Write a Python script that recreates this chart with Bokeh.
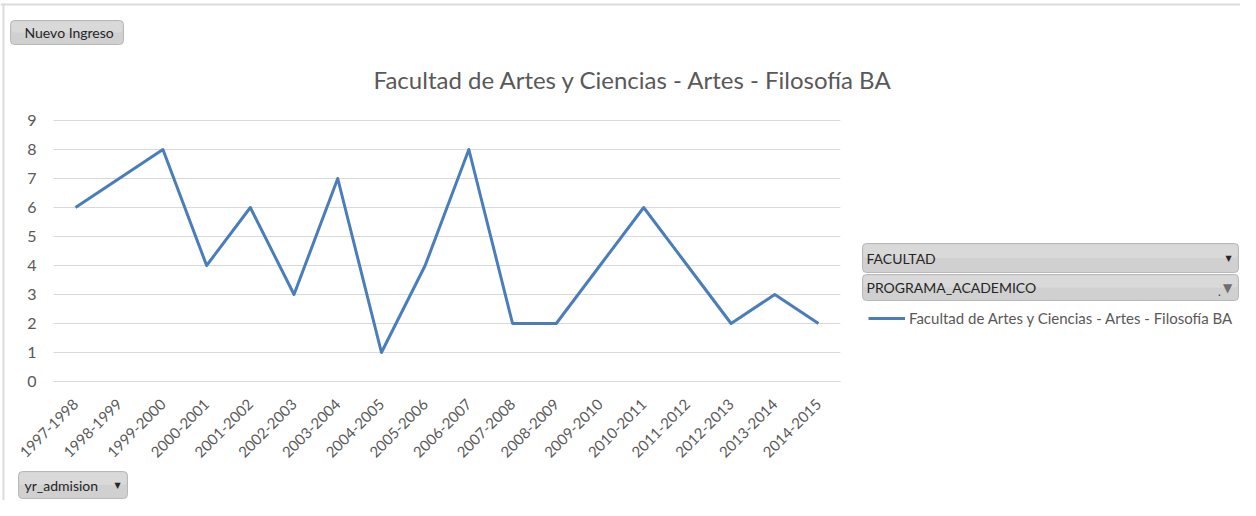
import math
from bokeh.plotting import figure
from bokeh.models import (Range1d, Label, BoxAnnotation, Legend, LegendItem, FixedTicker)
from bokeh.embed import file_html
from bokeh.resources import INLINE

years = ["1997-1998", "1998-1999", "1999-2000", "2000-2001", "2001-2002", "2002-2003",
         "2003-2004", "2004-2005", "2005-2006", "2006-2007", "2007-2008", "2008-2009",
         "2009-2010", "2010-2011", "2011-2012", "2012-2013", "2013-2014", "2014-2015"]
values = [6, 7, 8, 4, 6, 3, 7, 1, 4, 8, 2, 2, 4, 6, 4, 2, 3, 2]
y_ticks = [0, 1, 2, 3, 4, 5, 6, 7, 8, 9]
series_name = "Facultad de Artes y Ciencias - Artes - Filosofía BA"
title_text = "Facultad de Artes y Ciencias - Artes - Filosofía BA"

FONT = "Lato"
TXT = "#595959"
W, H = 1240, 500

# category index positions
xs = list(range(len(years)))

# pixel layout of the plotting band (category band edges -0.5 .. n-0.5, values 0..9)
PX_FIRST, PX_LAST = 75, 818       # pixel x of first / last category
PY_ZERO, PY_NINE = 381, 120        # pixel y of 0 / 9
kx = (PX_LAST - PX_FIRST) / (len(years) - 1)
ky = (PY_ZERO - PY_NINE) / 9.0
x_range = Range1d(-PX_FIRST / kx, (W - PX_FIRST) / kx)
y_range = Range1d((PY_ZERO - H) / ky, PY_ZERO / ky)

p = figure(width=W, height=H, x_range=x_range, y_range=y_range,
           output_backend="svg", toolbar_location=None, min_border=0,
           x_axis_location="below", y_axis_location="left")
p.outline_line_color = None
p.background_fill_color = "white"
p.border_fill_color = "white"
p.xgrid.visible = False
p.ygrid.visible = False

band_lo, band_hi = -0.5, len(years) - 0.5

# horizontal gridlines at the value ticks across the category band
p.segment(x0=[band_lo] * len(y_ticks), x1=[band_hi] * len(y_ticks), y0=y_ticks, y1=y_ticks,
          line_color="#d9d9d9", line_width=1)

r = p.line(x=xs, y=values, line_color="#4a7ebb", line_width=3, line_join="round")

# y axis (fixed at the band's left edge)
ya = p.yaxis[0]
ya.fixed_location = band_lo
ya.ticker = FixedTicker(ticks=y_ticks)
ya.bounds = (0, 9)
ya.axis_line_color = None
ya.major_tick_line_color = None
ya.minor_tick_line_color = None
ya.major_label_text_font = FONT
ya.major_label_text_font_size = "16px"
ya.major_label_text_color = TXT
ya.major_label_standoff = 11

# x axis (fixed at value 0)
xa = p.xaxis[0]
xa.fixed_location = 0
xa.ticker = FixedTicker(ticks=xs)
xa.bounds = (band_lo, band_hi)
xa.major_label_overrides = {i: y for i, y in zip(xs, years)}
xa.axis_line_color = "#d9d9d9"
xa.major_tick_line_color = None
xa.minor_tick_line_color = None
xa.major_label_orientation = math.pi / 4
xa.major_label_text_font = FONT
xa.major_label_text_font_size = "15px"
xa.major_label_text_color = TXT
xa.major_label_standoff = 14

# helpers: pixel coords (from top-left) -> frame screen units (frame == canvas)
def sx(x):
    return x
def sy(y):
    return H - y

def box(x0, y0, x1, y1, fill, line=None, radius=0):
    p.add_layout(BoxAnnotation(left=sx(x0), right=sx(x1), top=sy(y0), bottom=sy(y1),
                               left_units="screen", right_units="screen",
                               top_units="screen", bottom_units="screen",
                               fill_color=fill, fill_alpha=1.0, line_color=line,
                               line_alpha=1.0 if line else 0.0,
                               line_width=1, border_radius=radius, level="overlay"))

def button(x0, y0, x1, y1):
    box(x0, y0, x1, y1, "#d0d0d0", "#b8b8b8", 4)
    box(x0 + 1, y0 + 1, x1 - 1, (y0 + y1) / 2, "#d9d9d9", None, 3)

def label(x, y, text, size="14px", align="left", color="#262626", font=FONT):
    p.add_layout(Label(x=sx(x), y=sy(y), x_units="screen", y_units="screen", text=text,
                       text_font=font, text_font_size=size, text_color=color,
                       text_align=align, text_baseline="middle", level="overlay"))

# outer frame lines (top and left)
box(0, 3, W, 5, "#dcdcdc")
box(2, 3, 4, H, "#dcdcdc")

# title
label(633, 79, title_text, size="24px", align="center", color=TXT)

# buttons / slicers
button(10, 20, 123, 44)
label(24, 32, "Nuevo Ingreso", size="14px")

button(18, 471, 127, 498)
label(24, 485, "yr_admision", size="14px")
label(117, 485, "▼", size="8px", align="center", font="DejaVu Sans")

button(862, 243, 1238, 272)
label(866, 258, "FACULTAD", size="14px")
label(1228, 258, "▼", size="8px", align="center", font="DejaVu Sans")

button(862, 274, 1238, 300)
label(866, 287, "PROGRAMA_ACADEMICO", size="14px")
label(1219, 291, ".", size="12px", align="center", color="#404040", font="DejaVu Sans")
label(1227, 287, "▼", size="12px", align="center", color="#6e6e6e", font="DejaVu Sans")

# legend
legend = Legend(items=[LegendItem(label=series_name, renderers=[r])],
                location=(868, H - 328), orientation="vertical",
                padding=0, margin=0, spacing=0, border_line_color=None,
                background_fill_alpha=0, glyph_width=37, glyph_height=20,
                label_height=20, label_standoff=4, label_text_font=FONT,
                label_text_font_size="15px", label_text_color=TXT)
p.add_layout(legend, "center")

open("out.html", "w").write(file_html(p, INLINE))
